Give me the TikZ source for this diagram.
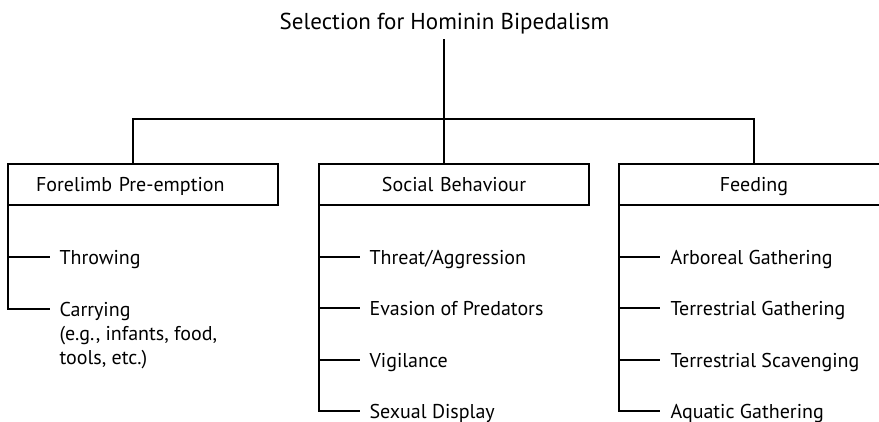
\documentclass[tikz,border=0pt]{standalone}
\usepackage{fontspec}
\setmainfont{PT Sans}
\begin{document}
\begin{tikzpicture}[x=1pt,y=-1pt,
  every path/.style={line width=1.1pt},
  titletext/.style={font=\fontsize{23}{27}\selectfont, inner sep=0pt, anchor=base},
  catbox/.style={draw, line width=1.1pt, outer sep=0pt, anchor=north west,
    minimum height=41pt, text height=17pt, text depth=4pt,
    font=\fontsize{20}{24}\selectfont},
  centbox/.style={catbox, align=center, text width=250pt, inner xsep=10pt},
  leftbox/.style={catbox, align=left, text width=214pt, inner xsep=28pt},
  item/.style={font=\fontsize{20}{24}\selectfont, inner sep=0pt, anchor=base west,
    text height=14pt, text depth=0pt},
  multiitem/.style={font=\fontsize{20}{24}\selectfont, inner sep=0pt, anchor=north west, align=left},
  conn/.style={draw, line width=1.1pt}
]
\useasboundingbox (0,0) rectangle (879,421);

\node[titletext] (title) at (444.5,29) {Selection for Hominin Bipedalism};
\coordinate (ttop) at (444,39);
\coordinate (hubL) at (133,119);
\coordinate (hubR) at (754,119);

\node[leftbox] (fore) at (8,164) {Forelimb Pre-emption};
\node[centbox] (soc) at (319,164) {Social Behaviour};
\node[centbox] (feed) at (619,164) {Feeding};

% top connectors
\draw[conn] (ttop) -- (ttop |- soc.north);
\draw[conn] (hubL |- fore.north) |- (hubR) -- (hubR |- feed.north);

% Forelimb items
\node[item] (throw) at (59,264) {Throwing};
\node[multiitem] (carry) at (59,302) {Carrying\\(e.g., infants, food,\\tools, etc.)};
\coordinate (carryline) at (50,309);
\draw[conn] (fore.south west) |- (carryline);
\draw[conn] (throw.west -| fore.south west) -- ([xshift=-9pt]throw.west);

% Social items
\node[item] (threat) at (369,264) {Threat/Aggression};
\node[item] (evasion) at (369,315) {Evasion of Predators};
\node[item] (vigil) at (369,367) {Vigilance};
\node[item] (sexual) at (369,418) {Sexual Display};
\draw[conn] (soc.south west) |- ([xshift=-9pt]sexual.west);
\foreach \n in {threat,evasion,vigil}
  \draw[conn] (\n.west -| soc.south west) -- ([xshift=-9pt]\n.west);

% Feeding items
\node[item] (arbo) at (670,264) {Arboreal Gathering};
\node[item] (tgath) at (670,315) {Terrestrial Gathering};
\node[item] (tscav) at (670,367) {Terrestrial Scavenging};
\node[item] (aqua) at (670,418) {Aquatic Gathering};
\draw[conn] (feed.south west) |- ([xshift=-10pt]aqua.west);
\foreach \n in {arbo,tgath,tscav}
  \draw[conn] (\n.west -| feed.south west) -- ([xshift=-10pt]\n.west);
\end{tikzpicture}
\end{document}
